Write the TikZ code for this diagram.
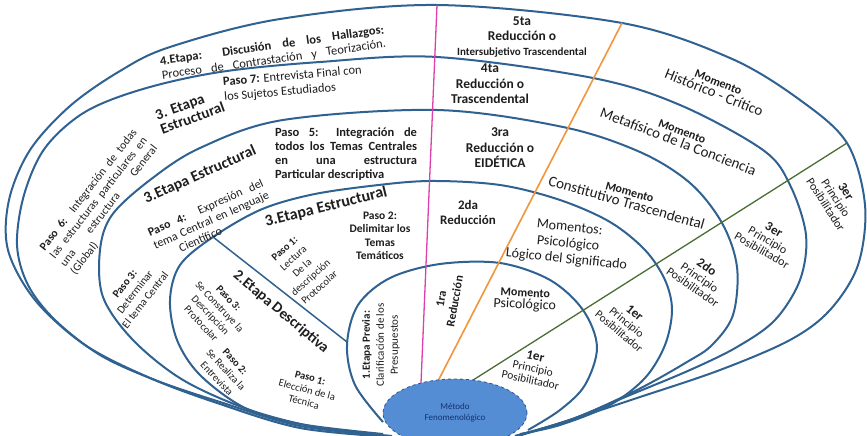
\documentclass[tikz,border=0pt]{standalone}
\usepackage{fontspec}
\setmainfont{Carlito}
\usetikzlibrary{shapes.geometric}
\definecolor{curvec}{RGB}{47,98,145}
\definecolor{pinkl}{RGB}{221,64,170}
\definecolor{orangel}{RGB}{240,150,60}
\definecolor{greenl}{RGB}{72,110,52}
\definecolor{blobfill}{RGB}{84,141,212}
\definecolor{blobline}{RGB}{45,85,140}
\definecolor{blobtext}{RGB}{20,50,110}
\definecolor{txtc}{RGB}{30,30,30}
\newcommand\myfs[2]{\fontsize{#1}{#2}\selectfont}
\begin{document}
\begin{tikzpicture}[x=1pt,y=-1pt,
  band/.style={draw=curvec,line width=2pt},
  lbl/.style={inner sep=0pt,align=center,text=txtc},
]
\useasboundingbox (0,0) rectangle (867,436);
\fill[white] (0,0) rectangle (867,436);

% nested curves
\draw[band] plot[smooth,tension=0.55] coordinates {(392,437) (300,428) (217,403) (150,378) (85,345) (35,300) (8,250) (9,200) (30,150) (70,106) (120,71) (170,47) (280,19) (437,5) (622,23) (730,58) (800,100) (847,143) (865,205) (858,265) (830,310) (790,340) (720,370) (637,398) (570,420) (515,437)};
\draw[band] plot[smooth,tension=0.55] coordinates {(392,436) (300,426) (220,402) (155,380) (100,355) (55,320) (28,285) (17,245) (24,195) (45,148) (85,112) (143,89) (220,72) (320,62) (437,57) (593,78) (680,105) (763,150) (790,185) (806,235) (800,280) (775,320) (737,347) (690,370) (630,395) (570,420) (515,436)};
\draw[band] plot[smooth,tension=0.55] coordinates {(390,436) (320,428) (250,410) (183,380) (133,340) (103,297) (100,250) (112,215) (150,180) (200,148) (283,120) (437,110) (563,127) (640,152) (690,183) (722,223) (737,267) (733,315) (712,345) (687,362) (637,390) (575,418) (515,436)};
\draw[band] plot[smooth,tension=0.55] coordinates {(383,434) (300,424) (245,408) (200,375) (177,340) (170,300) (180,265) (213,237) (260,210) (310,195) (370,186) (430,181) (500,185) (560,200) (610,222) (645,250) (665,280) (672,310) (665,345) (645,378) (610,405) (560,425) (520,434)};
\draw[band] plot[smooth,tension=0.55] coordinates {(383,422) (355,385) (347,345) (358,305) (390,278) (440,264) (500,263) (550,280) (583,310) (597,347) (585,385) (560,410) (528,430)};

% connector coordinates
\coordinate (pk1) at (437,5);   \coordinate (pk2) at (421,383);
\coordinate (or1) at (622,23);  \coordinate (or2) at (437,383);
\coordinate (gr1) at (847,143); \coordinate (gr2) at (470,382);
\coordinate (sp1) at (213,237); \coordinate (sp2) at (347,342);

\draw[pinkl,line width=1.3pt] (pk1) -- (pk2);
\draw[orangel,line width=1.6pt] (or1) -- (or2);
\draw[greenl,line width=1.3pt] (gr1) -- (gr2);
\draw[curvec,line width=1.5pt] (sp1) -- (sp2);

\node[ellipse,fill=blobfill,draw=blobline,dashed,line width=0.8pt,minimum width=144pt,minimum height=68pt,inner sep=0pt,text=blobtext,font=\myfs{9}{11},align=center] (metodo) at (455,413) {Método\\Fenomenológico};

% band A
\node[lbl,rotate=8,font=\myfs{12.5}{14}] (n4etapa) at (273,53) {\makebox[226pt][s]{\bfseries 4.Etapa: Discusión de los Hallazgos:}\\\makebox[226pt][s]{Proceso de Contrastación y Teorización.}};
\node[lbl,font=\myfs{13.5}{15}\bfseries] (n5ta) at (522,37) {5ta\\Reducción o\\{\myfs{11}{13}Intersubjetivo Trascendental}};
\node[lbl,rotate=-22] (nHist) at (716,88) {{\myfs{12}{14}\bfseries Momento}\\{\myfs{15}{17}Histórico - Crítico}};
\node[lbl,rotate=-57] (n3erA) at (836,198) {{\myfs{13}{14}\bfseries 3er}\\{\myfs{12}{13}Principio}\\{\myfs{12}{13}Posibilitador}};

% band B
\node[lbl,rotate=20,align=left,font=\myfs{15}{15}\bfseries] (n3etapaB) at (190,111) {3. Etapa\\Estructural};
\node[lbl,rotate=5,align=left,font=\myfs{12.5}{15}] (nPaso7) at (293,84) {\textbf{Paso 7:} Entrevista Final con\\los Sujetos Estudiados};
\node[lbl,font=\myfs{13.5}{15.5}\bfseries] (n4ta) at (490,84) {4ta\\Reducción o\\Trascendental};
\node[lbl,rotate=-21] (nMeta) at (680,137) {{\myfs{12}{14}\bfseries Momento}\\{\myfs{15}{17}Metafísico de la Conciencia}};
\node[lbl,rotate=-30] (n3erB) at (768,240) {{\myfs{13}{14}\bfseries 3er}\\{\myfs{12}{13}Principio}\\{\myfs{12}{13}Posibilitador}};
\node[lbl,rotate=52,font=\myfs{11.5}{13}] (nPaso6) at (104,202) {\makebox[150pt][s]{\textbf{Paso 6:} Integración de todas}\\\makebox[150pt][s]{las estructuras particulares en}\\\makebox[150pt][s]{una estructura General}\\\makebox[150pt][l]{(Global)}};

% band C
\node[lbl,font=\myfs{12.5}{14}\bfseries] (nPaso5) at (346,154) {\makebox[142pt][s]{Paso 5: Integración de}\\\makebox[142pt][s]{todos los Temas Centrales}\\\makebox[142pt][s]{en una estructura}\\\makebox[142pt][l]{Particular descriptiva}};
\node[lbl,font=\myfs{13.5}{15.5}\bfseries] (n3ra) at (500,148) {3ra\\Reducción o\\EIDÉTICA};
\node[lbl,rotate=-16] (nConst) at (628,198) {{\myfs{12}{14}\bfseries Momento}\\{\myfs{15}{17}Constitutivo Trascendental}};
\node[lbl,rotate=-35] (n2do) at (700,277) {{\myfs{13}{14}\bfseries 2do}\\{\myfs{12}{13}Principio}\\{\myfs{12}{13}Posibilitador}};
\node[lbl,rotate=24,font=\myfs{15.5}{17}\bfseries] (n3etapaC) at (200,175) {3.Etapa Estructural};
\node[lbl,rotate=24,font=\myfs{12}{13.5}] (nPaso4) at (211,220) {\makebox[125pt][s]{\textbf{Paso 4:} Expresión del}\\\makebox[125pt][s]{tema Central en lenguaje}\\\makebox[125pt][l]{\hspace{22pt}Científico}};
\node[lbl,rotate=52,font=\myfs{11}{13}] (nPaso3a) at (135,292) {\textbf{Paso 3:}\\Determinar\\El tema Central};

% band D
\node[lbl,rotate=14,font=\myfs{16}{18}\bfseries] (n3etapaD) at (326,207) {3.Etapa Estructural};
\node[lbl,font=\myfs{11.5}{13.5}\bfseries] (nPaso2a) at (380,236) {Paso 2:\\Delimitar los\\Temas\\Temáticos};
\node[lbl,rotate=42,font=\myfs{10.5}{13}] (nPaso1a) at (302,268) {\textbf{Paso 1:}\\Lectura\\De la\\descripción\\Protocolar};
\node[lbl,rotate=-40,font=\myfs{15}{16}\bfseries] (n2etapa) at (281,312) {2.Etapa Descriptiva};
\node[lbl,rotate=-47,font=\myfs{10.5}{12.5}] (nPaso3b) at (215,311) {\textbf{Paso 3:}\\Se Construye la\\Descripción\\Protocolar};
\node[lbl,rotate=-47,font=\myfs{10.5}{12.5}] (nPaso2b) at (226,370) {\textbf{Paso 2:}\\Se Realiza la\\Entrevista};
\node[lbl,rotate=-15,font=\myfs{10.5}{12.5}] (nPaso1b) at (307,390) {\textbf{Paso 1:}\\Elección de la\\Técnica};
\node[lbl,font=\myfs{13}{15}\bfseries] (n2da) at (468,212) {2da\\Reducción};
\node[lbl,rotate=-6,font=\myfs{14}{16}] (nMomentos) at (568,244) {Momentos:\\Psicológico\\Lógico del Significado};
\node[lbl,rotate=-40] (n1erD) at (627,322) {{\myfs{13}{14}\bfseries 1er}\\{\myfs{11.5}{13}Principio}\\{\myfs{11.5}{13}Posibilitador}};

% inner
\node[lbl,rotate=90,font=\myfs{11}{14}] (nPrevia) at (381,345) {{\bfseries 1.Etapa Previa:}\\Clarificación de los\\Presupuestos};
\node[lbl,rotate=80,font=\myfs{12}{14}\bfseries] (n1ra) at (448,300) {1ra\\Reducción};
\node[lbl,rotate=-3] (nPsico) at (525,300) {{\myfs{12}{14}\bfseries Momento}\\{\myfs{14}{16}Psicológico}};
\node[lbl,rotate=-12] (n1erIn) at (533,368) {{\myfs{13}{14}\bfseries 1er}\\{\myfs{11.5}{13}Principio}\\{\myfs{11.5}{13}Posibilitador}};
\end{tikzpicture}
\end{document}
